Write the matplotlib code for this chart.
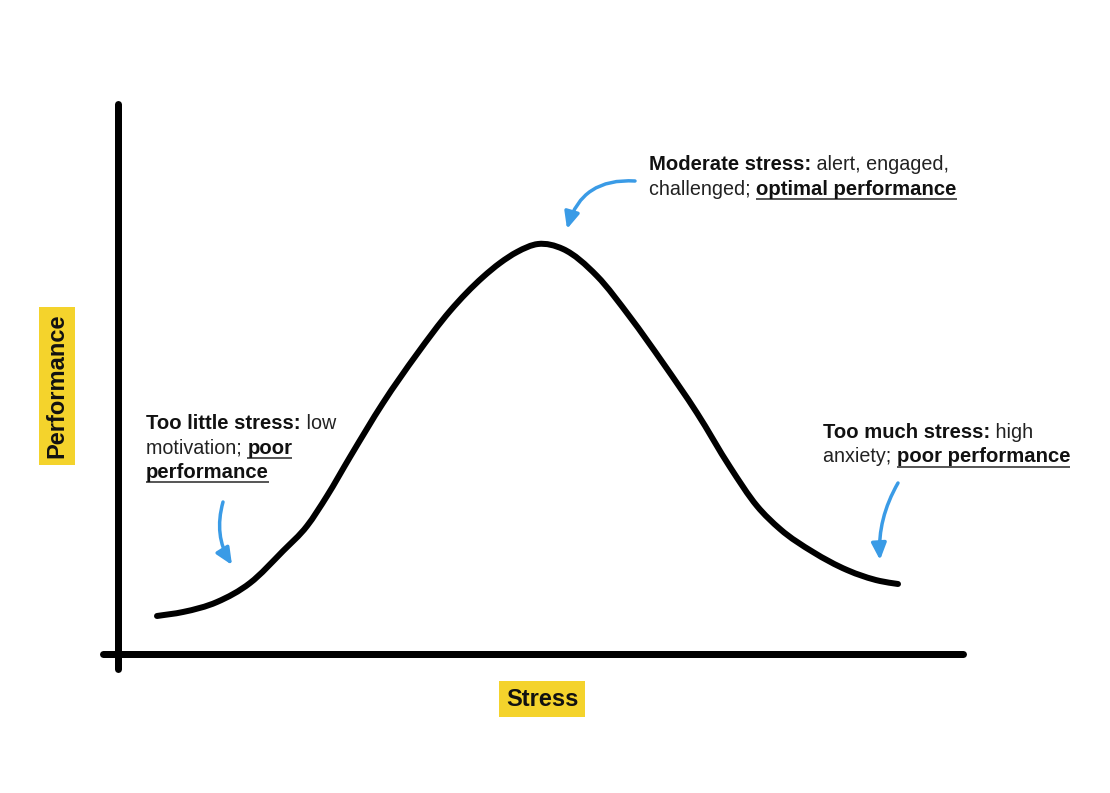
import matplotlib
matplotlib.use("Agg")
import matplotlib.pyplot as plt
from matplotlib.patches import FancyArrowPatch, PathPatch
from matplotlib.path import Path

# ---------------- data (figure pixel space, y downward) ----------------
stress_x = [157, 183, 217, 250, 283, 307, 327, 350, 383, 417, 450, 483, 500, 517, 538,
            563, 597, 630, 663, 697, 730, 757, 780, 813, 847, 880, 898]
performance_y = [616, 612, 602, 583, 551, 526, 496, 457, 403, 354, 311, 277, 263, 252, 244,
                 249, 276, 317, 363, 413, 467, 506, 529, 552, 570, 581, 584]

x_axis_line = ([103, 963], [654, 654])
y_axis_line = ([118, 118], [104, 669])

x_label = "Stress"
y_label = "Performance"

# annotations: lines of (text, bold, underline)
ann_top = [[("Moderate stress:", True, False), (" alert, engaged,", False, False)],
           [("challenged; ", False, False), ("optimal performance", True, True)]]
ann_left = [[("Too little stress:", True, False), (" low", False, False)],
            [("motivation; ", False, False), ("poor", True, True)],
            [("performance", True, True)]]
ann_right = [[("Too much stress:", True, False), (" high", False, False)],
             [("anxiety; ", False, False), ("poor performance", True, True)]]

arrows = [((635, 181), (567, 229), 0.40),
          ((223, 502), (232, 565), 0.22),
          ((898, 483), (880, 560), 0.15)]

# ---------------- styling ----------------
W, H = 1110, 793
FONT = "Liberation Sans"
FS_BOLD = 14.6
FS_REG = 14.2
YELLOW = "#F4D32C"
BLUE = "#3A9BE6"

fig = plt.figure(figsize=(W / 100, H / 100), dpi=100)
ax = fig.add_axes([0, 0, 1, 1])
ax.set_xlim(0, W)
ax.set_ylim(H, 0)
ax.axis("off")

ax.plot(*x_axis_line, color="black", lw=7 * 0.72, solid_capstyle="round")
ax.plot(*y_axis_line, color="black", lw=7 * 0.72, solid_capstyle="round")

# smooth curve through the traced points (cubic Hermite rendered as Bezier segments)
xs, ys = stress_x, performance_y
n = len(xs)
h = [xs[i + 1] - xs[i] for i in range(n - 1)]
d = [(ys[i + 1] - ys[i]) / h[i] for i in range(n - 1)]
m = [d[0]]
for i in range(1, n - 1):
    m.append((d[i - 1] * h[i] + d[i] * h[i - 1]) / (h[i - 1] + h[i]))
m.append(d[-1])
verts = [(xs[0], ys[0])]
codes = [Path.MOVETO]
for i in range(n - 1):
    verts += [(xs[i] + h[i] / 3, ys[i] + m[i] * h[i] / 3),
              (xs[i + 1] - h[i] / 3, ys[i + 1] - m[i + 1] * h[i] / 3),
              (xs[i + 1], ys[i + 1])]
    codes += [Path.CURVE4] * 3
ax.add_patch(PathPatch(Path(verts, codes), facecolor="none", edgecolor="black",
                       lw=6 * 0.72, capstyle="round", joinstyle="round"))

# axis labels in yellow boxes
box = dict(boxstyle="square,pad=0.28", facecolor=YELLOW, edgecolor="none")
ax.text(542, 699, x_label, fontsize=17, fontweight="bold", family=FONT,
        ha="center", va="center", bbox=box, color="#111111")
ax.text(57, 386, y_label, fontsize=17, fontweight="bold", family=FONT,
        ha="center", va="center", rotation=90, bbox=box, color="#111111")

fig.canvas.draw()
renderer = fig.canvas.get_renderer()


def width(s, bold):
    w = []
    for txt in ("|" + s + "|", "||"):
        t = ax.text(0, 0, txt, fontsize=FS_BOLD if bold else FS_REG, family=FONT,
                    fontweight="bold" if bold else "normal")
        w.append(t.get_window_extent(renderer).width)
        t.remove()
    return w[0] - w[1]


def layout(lines, x0, y0, dy=24.5):
    for i, line in enumerate(lines):
        x = x0
        yb = y0 + i * dy
        for s, bold, ul in line:
            ax.text(x, yb, s, fontsize=FS_BOLD if bold else FS_REG, family=FONT,
                    ha="left", va="baseline",
                    fontweight="bold" if bold else "normal",
                    color="#111111" if bold else "#222222")
            w = width(s, bold)
            if ul:
                ax.plot([x, x + w], [yb + 4, yb + 4], color="#555555", lw=1.4,
                        solid_capstyle="butt")
            x += w


layout(ann_top, 649, 170.5)
layout(ann_left, 146, 429)
layout(ann_right, 823, 438)

for (p0, p1, rad) in arrows:
    a = FancyArrowPatch(p0, p1, connectionstyle=f"arc3,rad={rad}",
                        arrowstyle="-|>,head_length=1.0,head_width=0.45",
                        mutation_scale=10, lw=2.5, color=BLUE,
                        shrinkA=0, shrinkB=0, capstyle="round")
    ax.add_patch(a)

fig.savefig("out.png", dpi=100)
